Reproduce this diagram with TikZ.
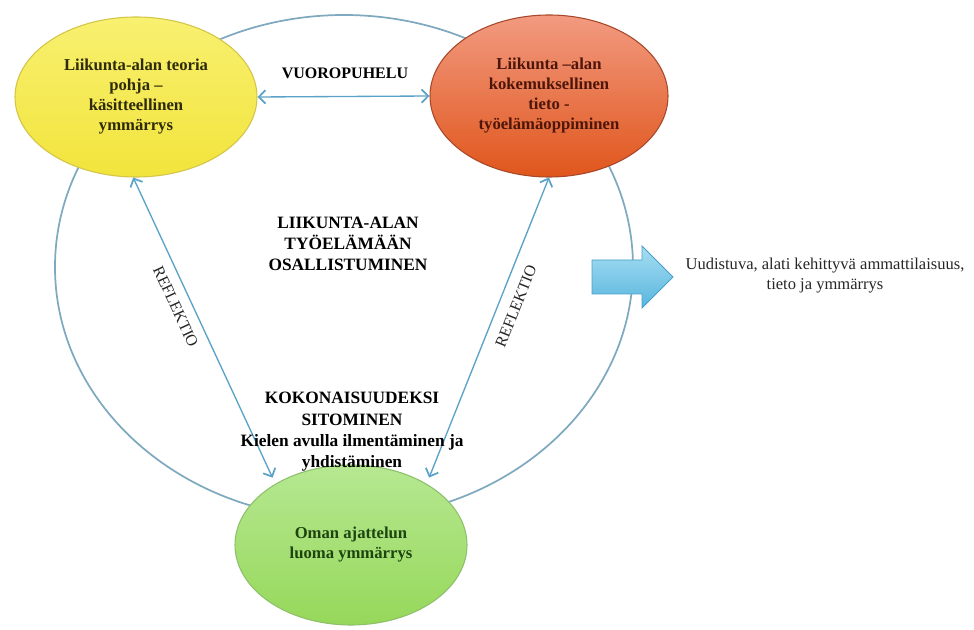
\documentclass[tikz,border=0pt]{standalone}
\usepackage{fontspec}
\setmainfont{Liberation Serif}
\usetikzlibrary{arrows.meta,shapes.geometric}
\definecolor{ringc}{HTML}{7FA9BE}
\definecolor{arrc}{HTML}{5AA2C8}
\definecolor{yelt}{HTML}{F8F070}
\definecolor{yelbot}{HTML}{F2E43C}
\definecolor{yelbd}{HTML}{D2C54A}
\definecolor{yeltx}{HTML}{2E2B0A}
\definecolor{orat}{HTML}{F29A80}
\definecolor{orabot}{HTML}{E0561C}
\definecolor{orabd}{HTML}{A8482A}
\definecolor{oratx}{HTML}{4E150A}
\definecolor{grnt}{HTML}{B6E892}
\definecolor{grnbot}{HTML}{96D85A}
\definecolor{grnbd}{HTML}{8EC06C}
\definecolor{grntx}{HTML}{1E4410}
\definecolor{blkt}{HTML}{A6DDF2}
\definecolor{blkb}{HTML}{58B6DE}
\definecolor{blkbd}{HTML}{4AA0C8}
\begin{document}
\begin{tikzpicture}[x=0.75pt,y=-0.75pt,
  bubble/.style={ellipse, draw, line width=0.8pt, inner sep=0pt, align=center,
    font=\bfseries\fontsize{12.5}{15}\selectfont},
  link/.style={draw=arrc, line width=1pt,
    {Straight Barb[length=5pt,width=10pt,line width=1.3pt]}-{Straight Barb[length=5pt,width=10pt,line width=1.3pt]}},
  lbl/.style={font=\bfseries\fontsize{13}{16}\selectfont, align=center},
  refl/.style={font=\fontsize{12}{14}\selectfont, text=black!85}
]
\path[use as bounding box] (0,0) rectangle (974,630);
\node[ellipse, draw=ringc, line width=1.3pt, minimum width=433.5pt, minimum height=378pt, inner sep=0pt] (ring) at (344,267) {};
\node[bubble, draw=yelbd, top color=yelt, bottom color=yelbot, text=yeltx,
  minimum width=181.5pt, minimum height=120pt] (yel) at (136,97)
  {Liikunta-alan teoria\\pohja --\\käsitteellinen\\ymmärrys};
\node[bubble, draw=orabd, top color=orat, bottom color=orabot, text=oratx,
  minimum width=178.5pt, minimum height=121.5pt] (ora) at (549,96)
  {Liikunta --alan\\kokemuksellinen\\tieto -\\työelämäoppiminen};
\node[bubble, draw=grnbd, top color=grnt, bottom color=grnbot, text=grntx,
  minimum width=174pt, minimum height=120pt] (grn) at (351,545)
  {Oman ajattelun\\luoma ymmärrys};
\draw[link] (yel.east) -- (ora.west);
\node[lbl, font=\bfseries\fontsize{12}{14}\selectfont] (vuoro) at (345,73) {VUOROPUHELU};
\draw[link, shorten >=5pt] (yel.268) -- (grn.141)
  node[refl, pos=0.40, sloped, below=4pt] (refl1) {REFLEKTIO};
\draw[link, shorten >=5pt] (ora.south) -- (grn.39)
  node[refl, pos=0.40, sloped, below=5pt] (refl2) {REFLEKTIO};
\node[lbl] (mid) at (348,244) {LIIKUNTA-ALAN\\TYÖELÄMÄÄN\\OSALLISTUMINEN};
\node[lbl] (koko) at (352,432) {KOKONAISUUDEKSI\\SITOMINEN\\Kielen avulla ilmentäminen ja\\yhdistäminen};
\draw[draw=blkbd, line width=0.6pt, top color=blkt, bottom color=blkb]
  (592,260) -- (642,260) -- (642,246) -- (673,277) -- (642,308) -- (642,294) -- (592,294) -- cycle;
\node[font=\fontsize{12.4}{15}\selectfont, align=center, text=black!85] (res) at (825,276)
  {Uudistuva, alati kehittyvä ammattilaisuus,\\tieto ja ymmärrys};
\end{tikzpicture}
\end{document}
